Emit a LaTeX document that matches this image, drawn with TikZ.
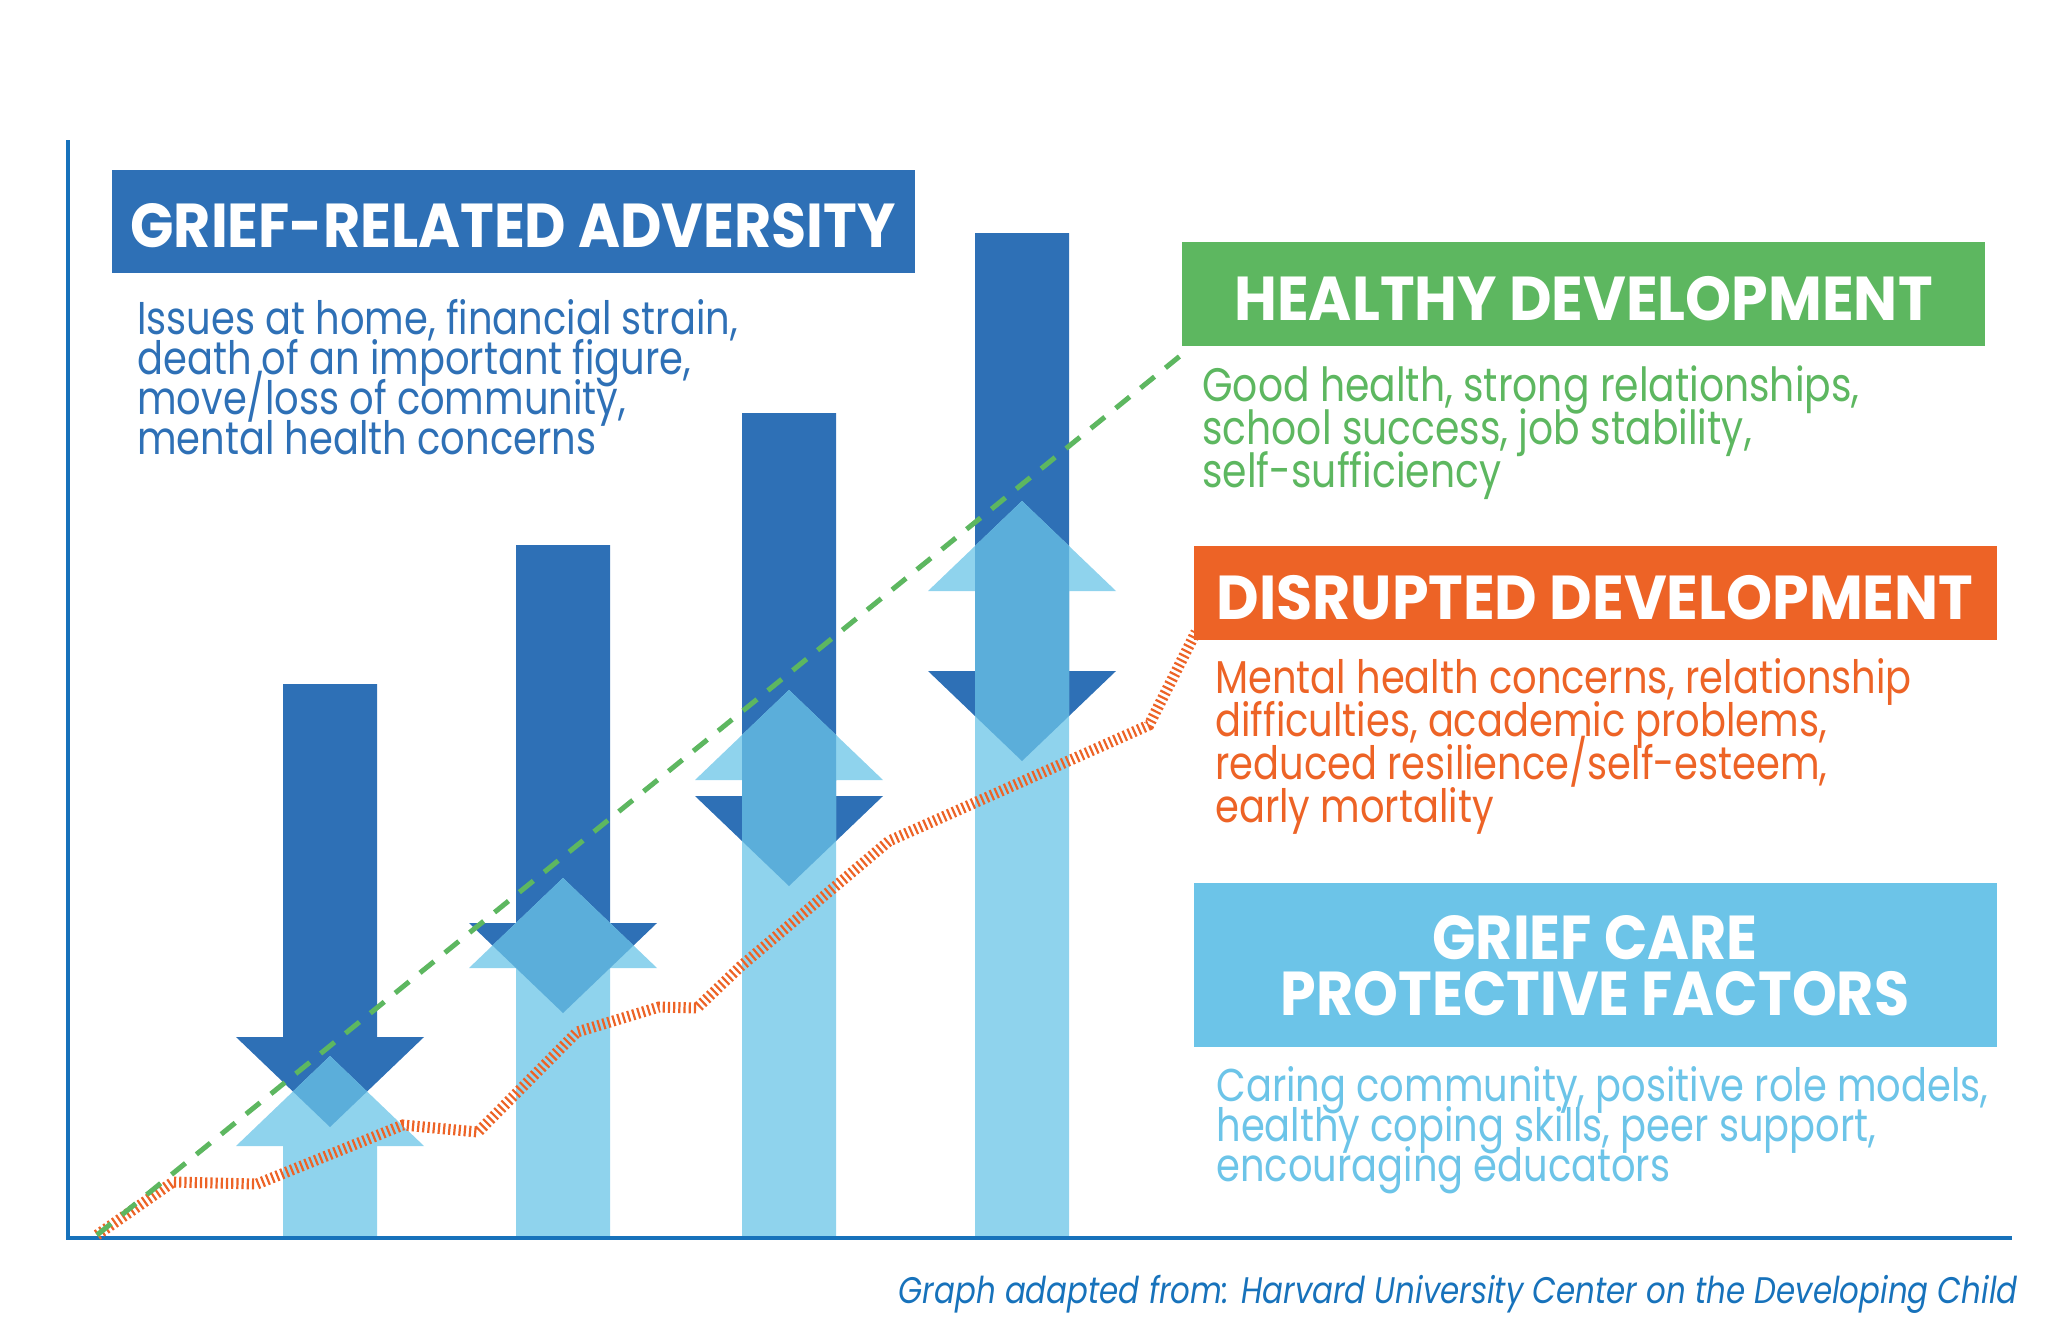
\documentclass[tikz,border=0pt]{standalone}
\usepackage{fontspec}
\setmainfont{Poppins}
\newfontfamily\bodyfont{Poppins}[FakeStretch=0.835]
\newfontfamily\headfont{Poppins}[FakeStretch=0.92]
\newfontfamily\headwidefont{Poppins}[FakeStretch=0.945]
\usetikzlibrary{positioning}
\definecolor{GriefBlue}{RGB}{46,112,182}
\definecolor{GriefSky}{RGB}{143,211,237}
\definecolor{GriefMid}{RGB}{91,174,218}
\definecolor{GriefCare}{RGB}{108,196,232}
\definecolor{GriefGreen}{RGB}{93,183,96}
\definecolor{GriefOrange}{RGB}{237,99,38}
\definecolor{GriefAxis}{RGB}{23,114,187}
\lineskiplimit=-100pt
\normallineskiplimit=-100pt

\begin{document}
\begin{tikzpicture}[x=0.5pt,y=-0.5pt,
    titlebox/.style={text=white,inner sep=0pt,text depth=0pt,text height=26pt,
      minimum width=401.5pt,font=\headfont\bfseries\fontsize{31}{28}\selectfont},
    bodytext/.style={anchor=north west,inner sep=0pt,align=left,
      font=\bodyfont\fontsize{23}{20}\selectfont}]
        \useasboundingbox (0,0) rectangle (2048,1339);

        % bars: dark arrow down, light arrow up, overlap in between
        \foreach \cx/\tp/\db/\lt in {330/684/1037/1056,563/545/923/878,789/413/796/690,1022/233/671/501} {
          \fill[GriefBlue] (\cx-47,\tp) -- (\cx+47,\tp) -- (\cx+47,\db) -- (\cx+94,\db) -- (\cx,\db+90) -- (\cx-94,\db) -- (\cx-47,\db) -- cycle;
          \fill[GriefSky] (\cx,\lt) -- (\cx+94,\lt+90) -- (\cx+47,\lt+90) -- (\cx+47,1236) -- (\cx-47,1236) -- (\cx-47,\lt+90) -- (\cx-94,\lt+90) -- cycle;
          \begin{scope}
            \clip (\cx-47,\tp) -- (\cx+47,\tp) -- (\cx+47,\db) -- (\cx+94,\db) -- (\cx,\db+90) -- (\cx-94,\db) -- (\cx-47,\db) -- cycle;
            \fill[GriefMid] (\cx,\lt) -- (\cx+94,\lt+90) -- (\cx+47,\lt+90) -- (\cx+47,1236) -- (\cx-47,1236) -- (\cx-47,\lt+90) -- (\cx-94,\lt+90) -- cycle;
          \end{scope}
        }

        \draw[GriefAxis,line width=2pt] (68,140) -- (68,1238) -- (2012,1238);

        \coordinate (origin) at (97,1235);
        \draw[GriefOrange,line width=5.5pt,dash pattern=on 1.1pt off 1.5pt] plot coordinates {(97,1235) (173,1182) (257,1184) (403,1125) (478,1132) (577,1032) (659,1007) (697,1008) (741,966) (889,841) (1149,725) (1196,632)};
        \draw[GriefGreen,line width=2.5pt,dash pattern=on 9pt off 7pt] (origin) -- (1180,356);

        \node[titlebox,fill=GriefBlue,minimum height=51.5pt] (adversity) at (513,221.5) {GRIEF-RELATED ADVERSITY};
        \node[titlebox,fill=GriefGreen,minimum height=52pt,font=\headwidefont\bfseries\fontsize{31}{28}\selectfont] (healthy) at (1583.5,294) {HEALTHY DEVELOPMENT};
        \node[titlebox,fill=GriefOrange,minimum height=47pt,font=\headwidefont\bfseries\fontsize{31}{28}\selectfont] (disrupted) at (1595,593) {DISRUPTED DEVELOPMENT};
        \node[titlebox,fill=GriefCare,minimum height=82pt,text height=50pt,align=center] (care) at (1595,965) {GRIEF CARE\\PROTECTIVE FACTORS};

        \node[bodytext,text=GriefBlue] (adversitytext) at (137,299) {Issues at home, financial strain,\\death of an important figure,\\move/loss of community,\\mental health concerns};
        \node[bodytext,text=GriefGreen,font=\bodyfont\fontsize{23.5}{21.5}\selectfont] (healthytext) at (1202,365) {Good health, strong relationships,\\school success, job stability,\\self-sufficiency};
        \node[bodytext,text=GriefOrange,font=\bodyfont\fontsize{23}{21.5}\selectfont] (disruptedtext) at (1215,658) {Mental health concerns, relationship\\difficulties, academic problems,\\reduced resilience/self-esteem,\\early mortality};
        \node[bodytext,text=GriefCare] (caretext) at (1216,1066) {Caring community, positive role models,\\healthy coping skills, peer support,\\encouraging educators};

        \node[font=\bodyfont\itshape\fontsize{18.5}{19}\selectfont,text=GriefAxis,anchor=base east,inner sep=0pt] (credit) at (2018,1303) {Graph adapted from: Harvard University Center on the Developing Child};
      \end{tikzpicture}
\end{document}
